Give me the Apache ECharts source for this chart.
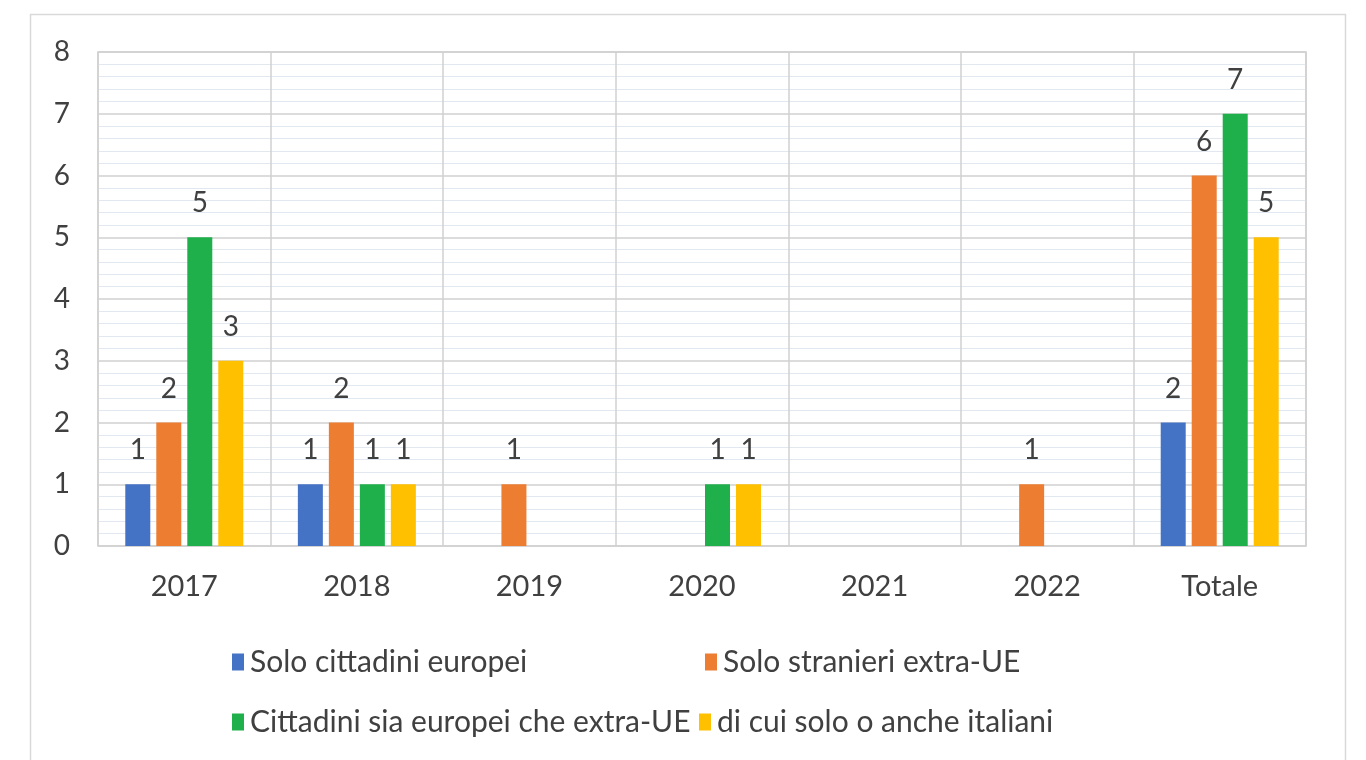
<!DOCTYPE html>
<html>
<head>
<meta charset="utf-8">
<script src="https://cdn.jsdelivr.net/npm/echarts@6/dist/echarts.min.js"></script>
<style>
html,body{margin:0;padding:0;background:#fff;}
#c{width:1366px;height:760px;}
</style>
</head>
<body>
<div id="c"></div>
<script>
const categories = ['2017','2018','2019','2020','2021','2022','Totale'];
const seriesNames = ['Solo cittadini europei','Solo stranieri extra-UE','Cittadini sia europei che extra-UE','di cui solo o anche italiani'];
const soloEuropei = [1,1,0,0,0,0,2];
const soloExtraUE = [2,2,1,0,0,1,6];
const siaEuropeiExtraUE = [5,1,0,1,0,0,7];
const italiani = [3,1,0,1,0,0,5];
const yTicks = [0,1,2,3,4,5,6,7,8];

const colors = ['#4472C4','#ED7D31','#1FAF4B','#FFC000'];
const FONT = 'Lato';
const TXT = '#404040';
const values = [soloEuropei, soloExtraUE, siaEuropeiExtraUE, italiani];

const chart = echarts.init(document.getElementById('c'));
const legendPos = [[227,642],[700,642],[227,702],[694,702]];
chart.setOption({
  animation:false,
  backgroundColor:'#fff',
  textStyle:{fontFamily:FONT},
  graphic:[{type:'rect',shape:{x:30.5,y:14.5,width:1315,height:800},style:{fill:'none',stroke:'#D9D9D9',lineWidth:1.5},z:-1}],
  grid:{left:98,right:60,top:52,bottom:214,show:true,borderColor:'#D0D0D0',borderWidth:1.5},
  legend: seriesNames.map((n,i)=>({
    data:[n],left:legendPos[i][0],top:legendPos[i][1],
    icon:'rect',itemWidth:12,itemHeight:17,itemGap:4,
    textStyle:{fontFamily:FONT,fontSize:30,color:TXT,padding:[0,0,0,1]}
  })),
  xAxis:{
    type:'category',data:categories,
    axisLine:{show:false},axisTick:{show:false},
    splitLine:{show:true,lineStyle:{color:'#D0D0D0',width:1.5}},
    axisLabel:{fontFamily:FONT,fontSize:29,color:TXT,margin:26}
  },
  yAxis:{
    type:'value',min:yTicks[0],max:yTicks[yTicks.length-1],interval:1,
    axisLine:{show:false},axisTick:{show:false},
    axisLabel:{fontFamily:FONT,fontSize:28,color:TXT,margin:28},
    splitLine:{lineStyle:{color:'#D0D0D0',width:1.5}},
    minorTick:{show:false,splitNumber:5},
    minorSplitLine:{show:true,lineStyle:{color:'#E2E8EF',width:1}}
  },
  series: seriesNames.map((n,i)=>({
    name:n,type:'bar',data:values[i],barWidth:25,barGap:'24%',
    itemStyle:{color:colors[i]},
    label:{show:true,position:'top',distance:20,fontFamily:FONT,fontSize:28,color:TXT,
      formatter:p=>p.value===0?'':String(p.value)}
  }))
});
</script>
</body>
</html>
